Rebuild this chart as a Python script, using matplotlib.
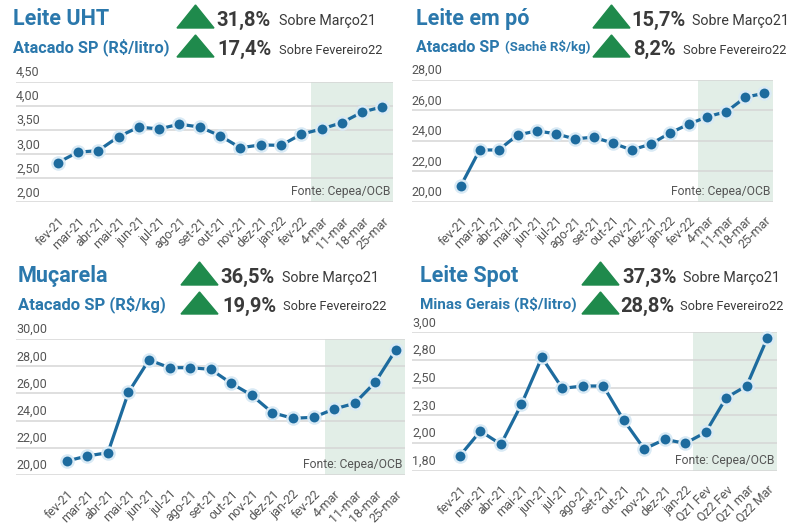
import matplotlib.pyplot as plt
from matplotlib.patches import Polygon

plt.rcParams['font.family'] = ['Roboto', 'DejaVu Sans']

W, H = 798, 528

# dados
meses = ['fev-21', 'mar-21', 'abr-21', 'mai-21', 'jun-21', 'jul-21', 'ago-21', 'set-21',
         'out-21', 'nov-21', 'dez-21', 'jan-22', 'fev-22', '4-mar', '11-mar', '18-mar', '25-mar']
meses_spot = ['fev-21', 'mar-21', 'abr-21', 'mai-21', 'jun-21', 'jul-21', 'ago-21', 'set-21',
              'out-21', 'nov-21', 'dez-21', 'jan-22', 'Qz1 Fev', 'Qz2 Fev', 'Qz1 mar', 'Qz2 Mar']

uht = [2.82, 3.04, 3.07, 3.36, 3.56, 3.52, 3.62, 3.56, 3.38, 3.13, 3.19, 3.18, 3.41,
       3.52, 3.65, 3.87, 3.98]
po = [21.03, 23.40, 23.40, 24.39, 24.65, 24.47, 24.13, 24.24, 23.86, 23.40, 23.78, 24.50,
      25.09, 25.59, 25.92, 26.87, 27.13]
mucarela = [21.03, 21.40, 21.64, 26.08, 28.46, 27.89, 27.89, 27.77, 26.74, 25.86, 24.58,
            24.17, 24.24, 24.85, 25.27, 26.82, 29.19]
spot = [1.885, 2.108, 1.988, 2.349, 2.773, 2.494, 2.515, 2.515, 2.205, 1.946, 2.033, 1.997,
        2.097, 2.409, 2.517, 2.945]

yt_uht = [2.0, 2.5, 3.0, 3.5, 4.0, 4.5]
yl_uht = ['2,00', '2,50', '3,00', '3,50', '4,00', '4,50']
yt_po = [20, 22, 24, 26, 28]
yl_po = ['20,00', '22,00', '24,00', '26,00', '28,00']
yt_muc = [20, 22, 24, 26, 28, 30]
yl_muc = ['20,00', '22,00', '24,00', '26,00', '28,00', '30,00']
yt_spot = [1.75, 2.0, 2.25, 2.5, 2.75, 3.0]
yl_spot = ['1,80', '2,00', '2,30', '2,50', '2,80', '3,00']

azul_titulo = '#2b78ac'
azul_linha = '#1d6b9e'
verde = '#1f8a4c'
sombra = '#e2eee7'
cinza = '#555555'

fig = plt.figure(figsize=(W / 100, H / 100), dpi=100)
fig.patch.set_facecolor('white')


def px(x, y):
    return x / W, 1 - y / H


def painel(x0, y0, x1, y1, labels, valores, yt, yl, xlim, sombra_ini):
    ax = fig.add_axes([x0 / W, 1 - y1 / H, (x1 - x0) / W, (y1 - y0) / H])
    n = len(valores)
    ax.axvspan(sombra_ini, xlim[1], color=sombra, zorder=0, lw=0)
    for v in yt:
        ax.axhline(v, color='#d6d6d6', lw=1.1, zorder=1)
    ax.plot(range(n), valores, color=azul_linha, lw=2.3, marker='o', ms=8.8,
            mfc=azul_linha, mec='#d9eaf5', mew=1.7, zorder=3, clip_on=False)
    ax.set_xlim(*xlim)
    ax.set_ylim(yt[0], yt[-1])
    for s in ax.spines.values():
        s.set_visible(False)
    ax.set_facecolor('none')
    ax.set_yticks([])
    ax.set_xticks(range(n))
    ax.set_xticklabels(labels, rotation=45, ha='right', rotation_mode='anchor',
                       fontsize=9, color=cinza)
    ax.tick_params(axis='x', length=0, pad=9)
    for v, lbl in zip(yt, yl):
        ax.annotate(lbl, (0, v), xycoords=ax.get_yaxis_transform(), xytext=(0, 2),
                    textcoords='offset points', ha='left', va='bottom', fontsize=9,
                    color=cinza)
    ax.annotate('Fonte: Cepea/OCB', (1, yt[0]), xycoords=ax.get_yaxis_transform(),
                xytext=(-2, 3), textcoords='offset points', ha='right', va='bottom',
                fontsize=8.7, color=cinza, zorder=4)
    return ax


def triangulo(x0, x1, y0, y1):
    pts = [px(x0, y1), px(x1, y1), px((x0 + x1) / 2, y0)]
    fig.add_artist(Polygon(pts, closed=True, color=verde, transform=fig.transFigure))


def cabecalho(x, titulo, sub, tx, p1, p2, xp1, xp2, xs1, xs2, dy=0, fs_sub=12):
    fig.text(*px(x, 19 + dy), titulo, fontsize=15.5, fontweight='bold', color=azul_titulo,
             va='center')
    if sub is not None:
        fig.text(*px(x, 47 + dy), sub, fontsize=fs_sub, fontweight='bold',
                 color=azul_titulo, va='center')
    triangulo(tx[0], tx[1], 5 + dy, 28 + dy)
    triangulo(tx[0], tx[1], 35 + dy, 57 + dy)
    fig.text(*px(xp1, 20 + dy), p1, fontsize=14.5, fontweight='bold', color='#3a3a3a',
             va='center')
    fig.text(*px(xp2, 49 + dy), p2, fontsize=14.5, fontweight='bold', color='#3a3a3a',
             va='center')
    fig.text(*px(xs1, 21 + dy), 'Sobre Março21', fontsize=10.3, color='#3a3a3a',
             va='center')
    fig.text(*px(xs2, 50 + dy), 'Sobre Fevereiro22', fontsize=9.2, color='#3a3a3a',
             va='center')


# Leite UHT
painel(16, 81.7, 393, 202.3, meses, uht, yt_uht, yl_uht, (-2.05, 16.52), 12.5)
cabecalho(13, 'Leite UHT', 'Atacado SP (R$/litro)', (177, 214), '31,8%', '17,4%',
          216, 217, 279, 279, fs_sub=11.8)

# Leite em pó
painel(411.7, 80, 773, 201.7, meses, po, yt_po, yl_po, (-2.58, 16.45), 12.52)
cabecalho(416, 'Leite em pó', None, (593, 630), '15,7%', '8,2%', 631, 633, 692, 683)
fig.text(*px(416, 47), 'Atacado SP', fontsize=11.5, fontweight='bold', color=azul_titulo,
         va='center')
fig.text(*px(505, 47), '(Sachê R$/kg)', fontsize=9.5, fontweight='bold',
         color=azul_titulo, va='center')

# Muçarela
painel(16, 339, 405, 475, meses, mucarela, yt_muc, yl_muc, (-2.47, 16.45), 12.55)
cabecalho(18, 'Muçarela', 'Atacado SP (R$/kg)', (181, 218), '36,5%', '19,9%',
          220, 222, 282, 283, dy=257)

# Leite Spot
painel(412, 332.3, 777, 470.7, meses_spot, spot, yt_spot, yl_spot, (-2.34, 15.48), 11.4)
cabecalho(420, 'Leite Spot', 'Minas Gerais (R$/litro)', (582, 619), '37,3%', '28,8%',
          622, 620, 683, 680, dy=257, fs_sub=11)

plt.savefig('out.png', dpi=100, facecolor='white')
